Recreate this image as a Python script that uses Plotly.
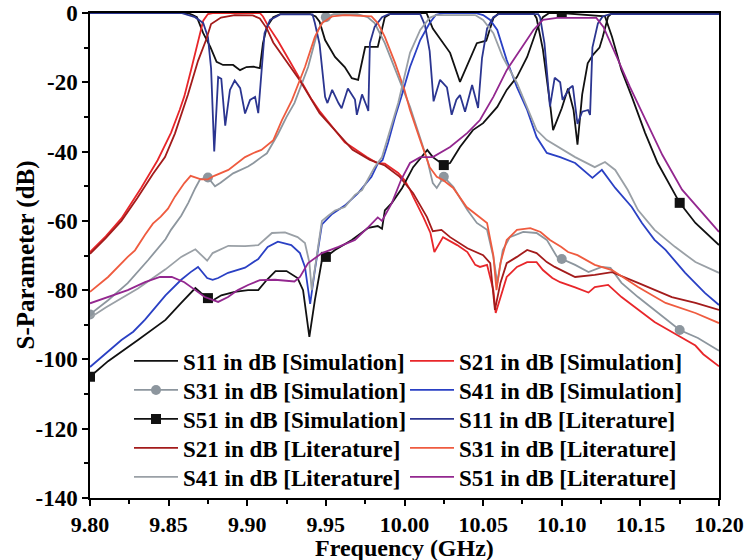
import plotly.graph_objects as go

# ---------------- data (frequency GHz, dB) ----------------
S11_SIM = [(9.80,0),(9.862,0),(9.865,-0.5),(9.868,-1.2),(9.872,-5.8),(9.8765,-9.8),(9.8805,-14.1),(9.8846,-15),(9.891,-15),(9.8954,-16.5),(9.8995,-15.6),(9.904,-15.5),(9.908,-15.9),(9.910,-8.7),(9.9125,-4),(9.9165,-1.2),(9.921,-0.3),(9.940,-0.3),(9.9435,-1),(9.946,-2.5),(9.9495,-7.8),(9.9558,-12.7),(9.962,-15.6),(9.9665,-18.8),(9.9705,-19.3),(9.975,-9.8),(9.983,-9.8),(9.9875,-1.2),(9.992,0),(10.014,0),(10.018,-4.5),(10.029,-11.5),(10.0353,-19.9),(10.0417,-13.5),(10.046,-8.7),(10.052,-8),(10.0565,-1.5),(10.06,0),(10.082,0),(10.084,-1.5),(10.088,-10.5),(10.0925,-26),(10.0945,-33.8),(10.10,-27.5),(10.104,-21.8),(10.1075,-28),(10.110,-38),(10.113,-23.5),(10.1165,-14.5),(10.12,-12),(10.124,-10),(10.126,-7),(10.1295,-1),(10.132,0),(10.20,0)]

S21_SIM = [(9.80,-69),(9.81,-64.5),(9.82,-59.3),(9.8325,-50.5),(9.843,-42.5),(9.8515,-34.6),(9.857,-28),(9.86,-24),(9.8645,-16),(9.869,-7.5),(9.872,-2.2),(9.875,-0.3),(9.878,0),(9.908,0),(9.910,-1),(9.913,-3.5),(9.9195,-8),(9.9265,-13.5),(9.9335,-19),(9.941,-25),(9.946,-28.3),(9.9545,-33),(9.962,-37.3),(9.9675,-39),(9.976,-41.6),(9.9825,-43.3),(9.9875,-43.5),(9.996,-46.2),(10.0,-48.2),(10.0035,-51),(10.0055,-53),(10.012,-58.9),(10.0165,-63.5),(10.019,-69),(10.0245,-64.7),(10.0335,-67),(10.04,-69),(10.045,-72.7),(10.048,-73.3),(10.0525,-72.7),(10.0565,-80),(10.058,-86.6),(10.061,-82),(10.065,-76.2),(10.0715,-73.3),(10.078,-71.9),(10.084,-71.9),(10.088,-74.2),(10.094,-76.5),(10.099,-77.7),(10.1085,-79.2),(10.117,-80.7),(10.121,-79.1),(10.1295,-78.5),(10.138,-82),(10.1485,-85.7),(10.159,-89.2),(10.172,-92.6),(10.185,-96),(10.19,-98.5),(10.20,-102)]

S31_SIM = [(9.80,-87),(9.8115,-82.9),(9.824,-78),(9.837,-71.3),(9.848,-65.3),(9.8515,-62.6),(9.858,-58.5),(9.8625,-54.8),(9.867,-50.5),(9.870,-48),(9.875,-47.5),(9.8795,-50),(9.883,-49),(9.888,-47.3),(9.891,-46.3),(9.9005,-44.3),(9.904,-43.3),(9.909,-41.6),(9.9125,-40.5),(9.9195,-35),(9.925,-30),(9.93,-26),(9.9387,-15.6),(9.945,-4.9),(9.95,-1.2),(9.955,-0.3),(9.97,-0.3),(9.9765,-1.2),(9.981,-2.9),(9.9875,-8.7),(9.994,-16.5),(10.0,-23.1),(10.0035,-27.1),(10.01,-35.8),(10.0145,-42.4),(10.018,-49.1),(10.0205,-50.5),(10.025,-47.3),(10.031,-50.2),(10.04,-56.9),(10.046,-60.6),(10.0525,-62.6),(10.0565,-70.4),(10.059,-77.9),(10.0625,-68.4),(10.067,-64.7),(10.0755,-63.2),(10.084,-63.5),(10.0905,-65.5),(10.097,-70.4),(10.10,-71),(10.1085,-72.7),(10.117,-74.8),(10.1255,-73.3),(10.131,-73.6),(10.138,-77.9),(10.1485,-82),(10.159,-85.7),(10.175,-91.5),(10.1866,-93.8),(10.20,-97.5)]

S41_SIM = [(9.80,-102.2),(9.805,-100.2),(9.82,-94.4),(9.8275,-92),(9.835,-88.5),(9.848,-81.5),(9.858,-77),(9.864,-74.8),(9.8687,-73.3),(9.8745,-76.5),(9.878,-77),(9.8815,-76.5),(9.8878,-75),(9.8986,-73.5),(9.907,-71),(9.913,-67.5),(9.9195,-66),(9.928,-67),(9.9335,-69.3),(9.9367,-73.3),(9.940,-84),(9.943,-74.2),(9.9475,-61),(9.954,-58),(9.962,-55.6),(9.9705,-52),(9.979,-47.3),(9.983,-43.5),(9.986,-42.5),(9.9895,-37.5),(9.994,-30),(9.998,-24.2),(10.0035,-15.6),(10.01,-7.8),(10.016,-2.9),(10.02,-0.5),(10.025,0),(10.045,0),(10.05,-0.6),(10.0545,-2),(10.059,-4.9),(10.065,-13.6),(10.0715,-21.4),(10.078,-28),(10.084,-35.8),(10.0905,-40.4),(10.099,-41.6),(10.1085,-43.3),(10.1195,-47.6),(10.1255,-45.3),(10.134,-50.5),(10.1445,-56),(10.151,-60.6),(10.159,-65.5),(10.166,-68.4),(10.1785,-75),(10.191,-80.8),(10.20,-84.3)]

S51_SIM = [(9.80,-105),(9.8115,-100.5),(9.8305,-94.4),(9.848,-88.6),(9.858,-83.7),(9.867,-79.4),(9.8706,-80.8),(9.875,-82.3),(9.878,-83),(9.8835,-81.5),(9.892,-80.5),(9.9005,-80),(9.907,-80),(9.9125,-77),(9.918,-74.5),(9.925,-74.5),(9.932,-76.5),(9.9355,-80),(9.9395,-93.5),(9.943,-82.9),(9.9475,-71.3),(9.95,-70.4),(9.9558,-68.4),(9.9665,-65.5),(9.977,-62),(9.983,-61.5),(9.9857,-62.3),(9.9875,-57),(9.992,-54.8),(9.9985,-50.5),(10.0055,-44.5),(10.0145,-39.5),(10.018,-41.6),(10.025,-43.9),(10.029,-43.3),(10.0353,-38.7),(10.0435,-33.8),(10.05,-31.8),(10.059,-27.1),(10.065,-22.2),(10.0715,-18.5),(10.078,-12.7),(10.084,-4.9),(10.088,-1.2),(10.092,0),(10.10,0),(10.1275,-1),(10.132,-6.9),(10.138,-16.5),(10.1446,-24.2),(10.153,-34.6),(10.161,-43.3),(10.175,-54.8),(10.185,-60.6),(10.20,-67)]

S11_LIT = [(9.80,0),(9.858,0),(9.8668,-1.2),(9.872,-2.9),(9.875,-7),(9.877,-16),(9.879,-40),(9.8815,-18.5),(9.8835,-19),(9.886,-32.5),(9.889,-22.2),(9.892,-19.5),(9.8955,-21.7),(9.8986,-29),(9.9018,-25.1),(9.905,-24.2),(9.907,-28.9),(9.9094,-15.6),(9.911,-5.8),(9.9145,-2),(9.921,-0.4),(9.9415,-0.4),(9.943,-2.9),(9.946,-9),(9.9495,-24.2),(9.951,-26),(9.954,-22.2),(9.958,-26),(9.960,-27.5),(9.964,-21.8),(9.9685,-25),(9.9697,-29.4),(9.973,-23.5),(9.976,-27),(9.977,-28.3),(9.978,-8.7),(9.981,-4),(9.9857,-1.2),(9.99,-0.3),(10.01,-0.3),(10.013,-3.5),(10.016,-11),(10.0185,-25.5),(10.0226,-19.3),(10.027,-21.5),(10.030,-29.4),(10.033,-25),(10.0353,-23.7),(10.0385,-28.5),(10.043,-20.8),(10.0468,-27.4),(10.0493,-13),(10.0525,-4.5),(10.0565,-1.2),(10.06,-0.3),(10.085,-0.3),(10.0862,-1.2),(10.089,-8.7),(10.0925,-27),(10.0955,-18.7),(10.099,-20),(10.1005,-25.1),(10.105,-21.7),(10.107,-21),(10.110,-32),(10.113,-28.5),(10.1167,-28),(10.118,-29.4),(10.1195,-10),(10.123,-3),(10.126,-1),(10.1307,-0.3),(10.20,-0.3)]

S21_LIT = [(9.80,-69.5),(9.81,-65),(9.82,-60),(9.83,-53.5),(9.84,-46.5),(9.8477,-41.6),(9.854,-34.8),(9.8623,-23.5),(9.8687,-13.8),(9.8738,-7.8),(9.877,-3.2),(9.8833,-1.3),(9.892,-0.6),(9.9035,-0.7),(9.908,-1.6),(9.9125,-4.5),(9.9165,-8.5),(9.9228,-12.7),(9.9335,-19.5),(9.946,-28.9),(9.957,-34.6),(9.967,-39.5),(9.978,-42.4),(9.9875,-44),(9.997,-47.3),(10.0055,-52),(10.0143,-58.9),(10.018,-63),(10.0235,-62.6),(10.029,-64.7),(10.04,-67.9),(10.05,-69.9),(10.0545,-72.2),(10.0575,-85.7),(10.061,-77.9),(10.065,-72.2),(10.0715,-70.4),(10.078,-68.4),(10.084,-69.3),(10.0905,-71.9),(10.0955,-73.3),(10.1085,-76.2),(10.121,-75.6),(10.132,-74.8),(10.1485,-77.9),(10.17,-82),(10.185,-83.7),(10.20,-85.7)]

S31_LIT = [(9.80,-80.5),(9.8115,-76.2),(9.824,-70.4),(9.8286,-68.5),(9.835,-64),(9.84,-60.8),(9.845,-58.8),(9.8496,-56.5),(9.854,-53),(9.86,-49.1),(9.864,-47),(9.8706,-48),(9.875,-48),(9.879,-47),(9.888,-45.3),(9.8986,-41.6),(9.904,-40.4),(9.909,-39.5),(9.9166,-36.7),(9.922,-31),(9.9285,-25.1),(9.9335,-19),(9.9367,-15.6),(9.943,-6.9),(9.9475,-2.9),(9.954,-1.0),(9.962,-0.6),(9.979,-1.0),(9.983,-2.9),(9.9875,-6.9),(9.994,-14.4),(10.0,-22.2),(10.0035,-28),(10.01,-36.7),(10.016,-44.5),(10.0205,-47.3),(10.0245,-48.2),(10.031,-50.5),(10.0395,-56),(10.046,-58.3),(10.0525,-60.6),(10.0565,-70),(10.0585,-80),(10.061,-72.2),(10.065,-65.5),(10.0715,-62.6),(10.08,-62.1),(10.0865,-63.2),(10.0925,-65.5),(10.0995,-67.5),(10.104,-69),(10.11,-69.9),(10.121,-72.7),(10.132,-74.2),(10.1485,-79.1),(10.166,-83.7),(10.185,-86.6),(10.20,-89.5)]

S41_LIT = [(9.80,-88),(9.81,-85),(9.8305,-79.5),(9.848,-74),(9.858,-70.4),(9.867,-68.2),(9.8745,-71.5),(9.878,-69.3),(9.888,-67.2),(9.8986,-67.3),(9.907,-67),(9.9125,-64.7),(9.9157,-63.5),(9.924,-63.3),(9.932,-64.7),(9.9367,-66.4),(9.9395,-72),(9.941,-80),(9.944,-70.4),(9.9475,-60),(9.9515,-58.5),(9.9558,-57),(9.962,-56),(9.9685,-52.5),(9.973,-51.1),(9.981,-44.5),(9.9857,-41.6),(9.9895,-35.8),(9.996,-26),(10.0035,-11.5),(10.01,-4.9),(10.016,-1.4),(10.02,-0.6),(10.045,-0.6),(10.05,-2),(10.0565,-5.8),(10.0625,-12.7),(10.0715,-20.2),(10.078,-27.1),(10.084,-33.8),(10.0905,-36.7),(10.0955,-38.1),(10.1085,-41.6),(10.121,-44.5),(10.1275,-43),(10.134,-45.3),(10.142,-51.1),(10.1485,-56.9),(10.159,-62.6),(10.172,-67.5),(10.185,-71.9),(10.20,-75)]

S51_LIT = [(9.80,-83.8),(9.8115,-82),(9.824,-80),(9.835,-77.7),(9.8445,-76.2),(9.852,-76.2),(9.86,-77.7),(9.867,-80),(9.873,-82),(9.8815,-83.4),(9.8878,-82),(9.894,-80),(9.9005,-78.5),(9.908,-77.1),(9.9177,-77),(9.930,-77.5),(9.9335,-76.2),(9.9387,-72.2),(9.9475,-69.3),(9.958,-67.5),(9.9685,-65.5),(9.977,-61.8),(9.983,-59),(9.9857,-60),(9.992,-54.8),(9.998,-48),(10.0035,-43.3),(10.01,-41.6),(10.018,-41.6),(10.029,-38.7),(10.04,-34.6),(10.048,-30.9),(10.0565,-24.2),(10.065,-16.5),(10.0735,-10.7),(10.082,-4.9),(10.088,-2),(10.097,-1.4),(10.122,-1.4),(10.1265,-4),(10.135,-12.7),(10.1434,-21.4),(10.154,-31.5),(10.164,-41),(10.1765,-51),(10.19,-58),(10.20,-63.2)]

MARKER_F = [9.80, 9.875, 9.95, 10.025, 10.10, 10.175]

Y_TICKS = [0, -20, -40, -60, -80, -100, -120, -140]
Y_TICKTEXT = ["0", "-20", "-40", "-60", "-80", "-100", "-120", "-140"]

X_TITLE = "Frequency (GHz)"
Y_TITLE = "S-Parameter (dB)"

# series: (name, data, color, marker symbol or None)
SERIES = [
    ("S11 in dB [Simulation]", S11_SIM, "#111111", None),
    ("S21 in dB [Simulation]", S21_SIM, "#e8262a", None),
    ("S31 in dB [Simulation]", S31_SIM, "#8d969e", "circle"),
    ("S41 in dB [Simulation]", S41_SIM, "#2a40c4", None),
    ("S51 in dB [Simulation]", S51_SIM, "#111111", "square"),
    ("S11 in dB [Literature]", S11_LIT, "#2b3590", None),
    ("S21 in dB [Literature]", S21_LIT, "#a31b1b", None),
    ("S31 in dB [Literature]", S31_LIT, "#ef5b3f", None),
    ("S41 in dB [Literature]", S41_LIT, "#9aa0a6", None),
    ("S51 in dB [Literature]", S51_LIT, "#93278f", None),
]

FONT = "Liberation Serif"
LW = 1.8
LEG_FONT = dict(family=FONT, size=23, color="black", weight="bold")
ROW_Y_PX = [361, 390, 419, 448, 477]   # legend row centres (pixels from top)
PLOT_LEFT, PLOT_RIGHT, PLOT_TOP, PLOT_BOTTOM = 90, 719, 13, 498
PW = PLOT_RIGHT - PLOT_LEFT
PH = PLOT_BOTTOM - PLOT_TOP
ITEMW = 44

fig = go.Figure()
for i, (name, data, color, sym) in enumerate(SERIES):
    leg = "legend" if i // 2 == 0 else "legend%d" % (i // 2 + 1)
    xs = [p[0] for p in data]
    ys = [p[1] for p in data]
    if sym is None:
        fig.add_trace(go.Scatter(x=xs, y=ys, mode="lines", name=name, legend=leg,
                                 line=dict(color=color, width=LW)))
    else:
        lookup = dict(data)
        fig.add_trace(go.Scatter(x=xs, y=ys, mode="lines", name=name, legend=leg,
                                 line=dict(color=color, width=LW),
                                 showlegend=False, legendgroup=name))
        mx, my = [], []
        for f in MARKER_F:
            mx += [f, None]
            my += [lookup[f], None]
        fig.add_trace(go.Scatter(x=mx, y=my, mode="lines+markers", name=name, legend=leg,
                                 legendgroup=name, connectgaps=False,
                                 line=dict(color=color, width=LW),
                                 marker=dict(symbol=sym, size=10, color=color)))

legends = {}
for k, ypx in enumerate(ROW_Y_PX):
    key = "legend" if k == 0 else "legend%d" % (k + 1)
    legends[key] = dict(orientation="h", x=(129 - PLOT_LEFT) / PW,
                        y=(PLOT_BOTTOM - ypx) / PH,
                        xanchor="left", yanchor="middle",
                        itemwidth=ITEMW,
                        entrywidth=217, entrywidthmode="pixels",
                        font=LEG_FONT, bgcolor="rgba(0,0,0,0)", borderwidth=0,
                        tracegroupgap=0)

fig.update_layout(
    width=745, height=560,
    margin=dict(l=PLOT_LEFT, r=745 - PLOT_RIGHT, t=PLOT_TOP, b=560 - PLOT_BOTTOM),
    plot_bgcolor="white", paper_bgcolor="white",
    font=dict(family=FONT, size=22, color="black", weight="bold"),
    showlegend=True,
    annotations=[
        dict(text=X_TITLE, xref="paper", yref="paper", x=0.5, y=(PLOT_BOTTOM - 548) / PH,
             xanchor="center", yanchor="middle", showarrow=False,
             font=dict(family=FONT, size=24, color="black", weight="bold")),
        dict(text=Y_TITLE, xref="paper", yref="paper", x=(25 - PLOT_LEFT) / PW, y=0.5,
             xanchor="center", yanchor="middle", showarrow=False, textangle=-90,
             font=dict(family=FONT, size=25, color="black", weight="bold")),
    ],
    **legends,
)
fig.update_xaxes(range=[9.80, 10.20], dtick=0.05, tick0=9.80, tickformat=".2f",
                 automargin=False, ticklabeloverflow="allow",
                 ticks="outside", ticklen=6, tickwidth=1.5, tickcolor="black",
                 showline=True, linecolor="black", linewidth=1.5, mirror=True,
                 showgrid=False, zeroline=False,
                 minor=dict(ticks="outside", ticklen=4, tickwidth=1.5, dtick=0.025, tick0=9.80, tickcolor="black"),
                 tickfont=dict(family=FONT, size=22, color="black", weight="bold"))
fig.update_yaxes(range=[-140, 0], tickmode="array", tickvals=Y_TICKS, ticktext=Y_TICKTEXT,
                 automargin=False, ticklabeloverflow="allow",
                 ticks="outside", ticklen=6, tickwidth=1.5, tickcolor="black",
                 showline=True, linecolor="black", linewidth=1.5, mirror=True,
                 showgrid=False, zeroline=False,
                 minor=dict(ticks="outside", ticklen=4, tickwidth=1.5, tickmode="array",
                            tickvals=list(range(-130, 0, 20)), tickcolor="black"),
                 tickfont=dict(family=FONT, size=23, color="black", weight="bold"))

fig.write_html("out.html")
